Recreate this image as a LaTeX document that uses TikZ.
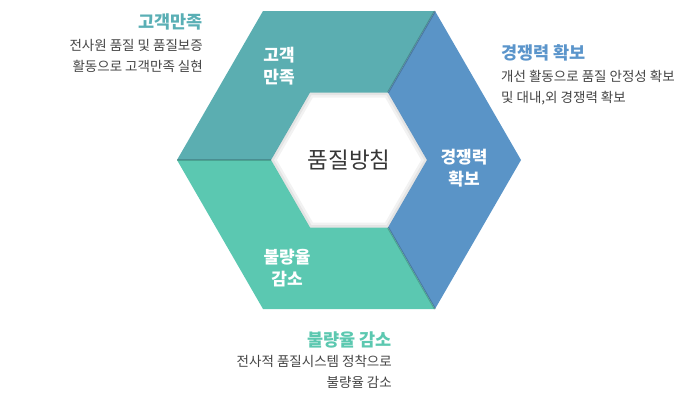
\documentclass[tikz,border=0pt]{standalone}
\usepackage{fontspec}
\setmainfont{Noto Sans CJK KR}
\usepackage{tikz}
\usetikzlibrary{positioning}
\usepackage{xcolor}

\definecolor{segtop}{HTML}{5BAEB1}
\definecolor{segright}{HTML}{5A94C7}
\definecolor{segbottom}{HTML}{5BC8B1}
\definecolor{headtop}{HTML}{5AAFB5}
\definecolor{headright}{HTML}{5B95CB}
\definecolor{headbottom}{HTML}{5CC8B0}
\definecolor{bodygray}{HTML}{444444}

\begin{document}
\begin{tikzpicture}[
      x=1pt,y=-1pt,
      divider/.style={line width=2pt,black,opacity=0.18},
      seglabel/.style={text=white,font=\fontsize{17}{21.5}\selectfont\bfseries,align=center},
      title/.style={text=bodygray!80!black,font=\fontsize{22.5}{26}\selectfont},
      head/.style={font=\fontsize{17.5}{20}\selectfont\bfseries,inner sep=0pt},
      body/.style={text=bodygray,font=\fontsize{13.5}{21}\selectfont,inner sep=0pt},
    ]
    \useasboundingbox (0,0) rectangle (700,402);

    % outer hexagon
    \coordinate (OL)  at (177,160);
    \coordinate (OTL) at (263,11);
    \coordinate (OTR) at (435,11);
    \coordinate (OR)  at (521,160);
    \coordinate (OBR) at (435,309);
    \coordinate (OBL) at (263,309);

    % inner hexagon
    \coordinate (IL)  at (271,160);
    \coordinate (ITL) at (310,92.5);
    \coordinate (ITR) at (388,92.5);
    \coordinate (IR)  at (427,160);
    \coordinate (IBR) at (388,227.5);
    \coordinate (IBL) at (310,227.5);

    % three segments
    \fill[segtop]    (OL) -- (OTL) -- (OTR) -- (ITR) -- (ITL) -- (IL) -- cycle;
    \fill[segright]  (OTR) -- (OR) -- (OBR) -- (IBR) -- (IR) -- (ITR) -- cycle;
    \fill[segbottom] (OBR) -- (OBL) -- (OL) -- (IL) -- (IBL) -- (IBR) -- cycle;

    % shadows on the dividers
    \draw[divider] (IL) -- (OL);
    \draw[divider] (ITR) -- (OTR);
    \draw[divider] (IBR) -- (OBR);

    % soft shadow in the hole
    \begin{scope}
      \clip (IL) -- (ITL) -- (ITR) -- (IR) -- (IBR) -- (IBL) -- cycle;
      \draw[line width=10pt,black,opacity=0.05]
            (IL) -- (ITL) -- (ITR) -- (IR) -- (IBR) -- (IBL) -- cycle;
      \draw[line width=5pt,black,opacity=0.06]
            (IL) -- (ITL) -- (ITR) -- (IR) -- (IBR) -- (IBL) -- cycle;
    \end{scope}

    % labels on the ring
    \node[title] (policy) at (349,160) {품질방침};
    \node[seglabel] (lsat)  at (279,66)  {고객\\만족};
    \node[seglabel] (lcomp) at (464,168) {경쟁력\\확보};
    \node[seglabel] (ldef)  at (287,268) {불량율\\감소};

    % side texts
    \node[head,text=headtop,anchor=east] (hsat) at (203,22) {고객만족};
    \node[body,below left=9pt and 0pt of hsat.south east,align=right] (bsat)
          {전사원 품질 및 품질보증\\활동으로 고객만족 실현};

    \node[head,text=headright,anchor=west] (hcomp) at (501,53) {경쟁력 확보};
    \node[body,below right=9pt and 0pt of hcomp.south west,align=left] (bcomp)
          {개선 활동으로 품질 안정성 확보\\및 대내,외 경쟁력 확보};

    \node[head,text=headbottom,anchor=east] (hdef) at (392,340) {불량율 감소};
    \node[body,below left=7pt and 0pt of hdef.south east,align=right] (bdef)
          {전사적 품질시스템 정착으로\\불량율 감소};
  \end{tikzpicture}
\end{document}
